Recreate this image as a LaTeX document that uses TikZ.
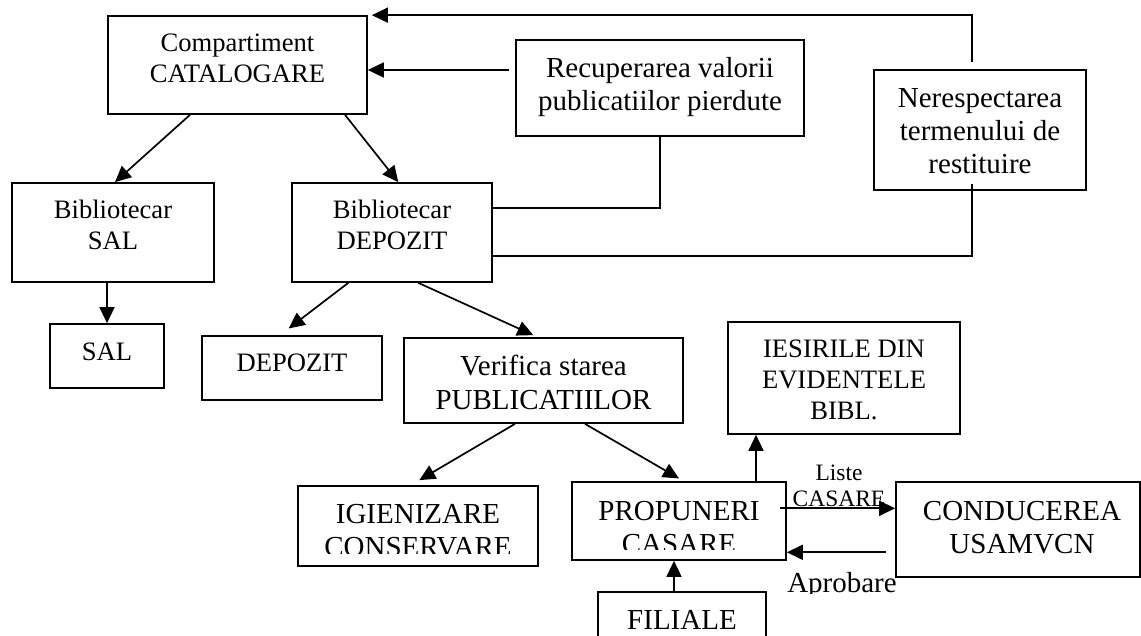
\documentclass[tikz,border=0pt]{standalone}
\usepackage{fontspec}
\setmainfont{Liberation Serif}
\usetikzlibrary{arrows.meta}
\newcommand\fsA{\fontsize{26.6}{31}\selectfont}
\newcommand\fsB{\fontsize{29}{33}\selectfont}
\newcommand\fsC{\fontsize{23.5}{26}\selectfont}
\begin{document}
\begin{tikzpicture}[x=1pt,y=-1pt,
  box/.style={draw,line width=1.7pt,inner sep=0pt},
  txt/.style={anchor=base,align=center,inner sep=0pt},
  arr/.style={line width=1.7pt,-{Triangle[length=16pt,width=15pt]}},
  ln/.style={line width=1.7pt}]
\useasboundingbox (0,0) rectangle (1141,636);
\clip (0,0) rectangle (1141,636);
\fill[white] (0,0) rectangle (1141,636);
% boxes (text anchor = baseline of last line)
\node[box,minimum width=259pt,minimum height=98pt] (cat) at (237.5,65) {};
\node[txt,font=\fsA] (catT) at (237.5,83) {Compartiment\\CATALOGARE};
\node[box,minimum width=288pt,minimum height=96pt] (rec) at (660,88) {};
\node[txt,font=\fsB] (recT) at (660,111) {Recuperarea valorii\\publicatiilor pierdute};
\node[box,minimum width=212pt,minimum height=120pt] (ner) at (980,130) {};
\node[txt,font=\fsB] (nerT) at (980,174) {Nerespectarea\\termenului de\\restituire};
\node[box,minimum width=202pt,minimum height=99pt] (bsal) at (113,232.5) {};
\node[txt,font=\fsA] (bsalT) at (113,250) {Bibliotecar\\SAL};
\node[box,minimum width=200pt,minimum height=99pt] (bdep) at (392,232.5) {};
\node[txt,font=\fsA] (bdepT) at (392,250) {Bibliotecar\\DEPOZIT};
\node[box,minimum width=114pt,minimum height=64pt] (sal) at (107,356) {};
\node[txt,font=\fsA] (salT) at (107,360) {SAL};
\node[box,minimum width=180pt,minimum height=64pt] (dep) at (292,368) {};
\node[txt,font=\fsA] (depT) at (292,372) {DEPOZIT};
\node[box,minimum width=279pt,minimum height=85pt] (ver) at (543.5,380.5) {};
\node[txt,font=\fsB] (verT) at (543.5,409) {Verifica starea\\PUBLICATIILOR};
\node[box,minimum width=232pt,minimum height=112pt] (ies) at (844,378) {};
\node[txt,font=\fsA] (iesT) at (844,419) {IESIRILE DIN\\EVIDENTELE\\BIBL.};
\node[box,minimum width=240pt,minimum height=80pt] (igi) at (418,526) {};
\begin{scope}
\clip (298,486) rectangle (538,553.5);
\node[txt,font=\fsB] (igiT) at (418,556) {IGIENIZARE\\CONSERVARE};
\end{scope}
\node[box,minimum width=214pt,minimum height=78pt] (pro) at (679,521) {};
\begin{scope}
\clip (572,482) rectangle (786,549);
\node[txt,font=\fsB] (proT) at (679,553) {PROPUNERI\\CASARE};
\end{scope}
\node[box,minimum width=244pt,minimum height=95pt] (con) at (1018,529.5) {};
\node[txt,font=\fsB] (conT) at (1022,553) {CONDUCEREA\\USAMVCN};
\node[box,minimum width=168pt,minimum height=68pt] (fil) at (682,626) {};
\node[txt,font=\fsB] (filT) at (682,629) {FILIALE};
\begin{scope}
\clip (760,560) rectangle (910,593.5);
\node[txt,font=\fsB] (apr) at (842,592.7) {Aprobare};
\end{scope}
\node[txt,font=\fsC] (lst) at (839,506) {Liste\\CASARE};
% connectors
\draw[arr] ([xshift=-47.5pt]cat.south) -- ([xshift=2pt]bsal.north);
\draw[arr] ([xshift=107.5pt]cat.south) -- ([xshift=6.3pt]bdep.north);
\draw[arr] (sal.north |- bsal.south) -- (sal.north);
\draw[arr] ([xshift=-43.7pt]bdep.south) -- ([xshift=-3.3pt,yshift=6.7pt]dep.north);
\draw[arr] ([xshift=26.3pt]bdep.south) -- ([xshift=-10.2pt,yshift=2pt]ver.north);
\draw[arr] ([xshift=-28.5pt]ver.south) -- ([xshift=1.3pt,yshift=5pt]igi.north);
\draw[arr] ([xshift=41.5pt]ver.south) -- ([yshift=2.7pt]pro.north);
\coordinate (f1) at ([xshift=-8pt]fil.north);
\draw[arr] (f1) -- (f1 |- pro.south);
\coordinate (p1) at ([xshift=77pt]pro.north);
\draw[arr] (p1) -- (p1 |- ies.south);
\coordinate (p2) at ([xshift=-7pt,yshift=12.7pt]pro.east);
\draw[arr] (p2) -- (p2 -| con.west);
\coordinate (c1) at ([xshift=-9.3pt,yshift=-22.8pt]con.west);
\draw[arr] (c1) -- (c1 -| pro.east);
\coordinate (r1) at ([xshift=-6pt,yshift=18pt]rec.west);
\draw[arr] (r1) -- (r1 -| cat.east);
\coordinate (n1) at ([xshift=-8.3pt,yshift=6.7pt]ner.north);
\draw[arr] (n1) |- ([xshift=4pt]cat.north east);
\draw[ln] (rec.south) |- ([yshift=24.2pt]bdep.east);
\draw[ln] ([xshift=-8.3pt,yshift=7pt]ner.south) |- ([yshift=-23.2pt]bdep.east);
\end{tikzpicture}
\end{document}
